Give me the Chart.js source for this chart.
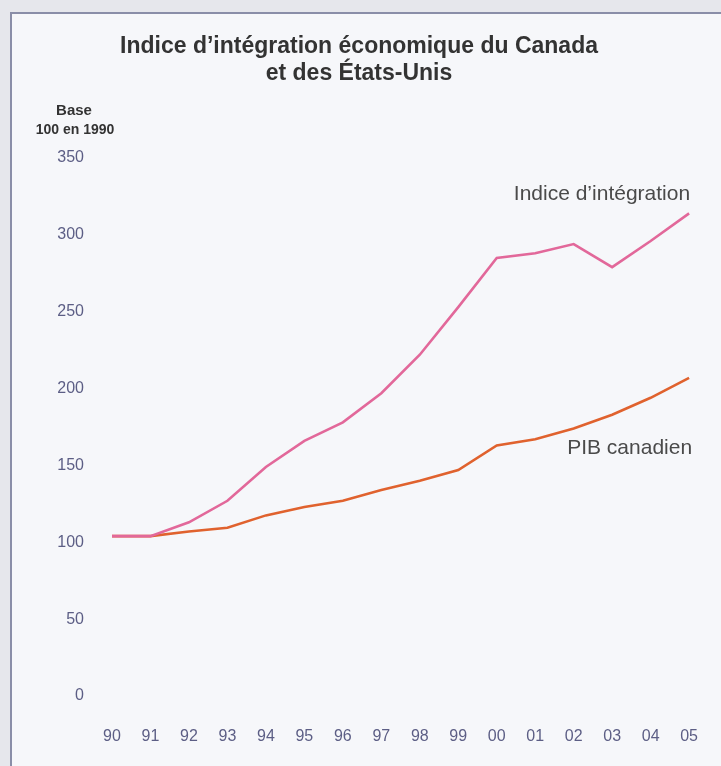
<!DOCTYPE html>
<html lang="fr">
<head>
<meta charset="utf-8">
<title>Indice d'intégration économique du Canada et des États-Unis</title>
<script src="https://cdn.jsdelivr.net/npm/chart.js@4.4.1/dist/chart.umd.min.js"></script>
<style>

    html,
    body {
        margin: 0;
        padding: 0;
        width: 721px;
        height: 766px;
        overflow: hidden;
        background: #e6e7ec;
    }

    #frame {
        position: absolute;
        left: 10px;
        top: 12px;
        width: 730px;
        height: 780px;
        border-left: 2px solid #8a8ea8;
        border-top: 2px solid #8a8ea8;
        background: #f6f7fa;
    }

    #chartBox {
        position: absolute;
        left: 0;
        top: 0;
        width: 721px;
        height: 766px;
    }

</style>
</head>
<body>

<div id="frame"></div>

<div id="chartBox">
    <canvas id="integrationChart" width="721" height="766"></canvas>
</div>

<script>

/*
============================================================
Data
============================================================
*/

const years = [
    "90", "91", "92", "93", "94", "95", "96", "97",
    "98", "99", "00", "01", "02", "03", "04", "05"
];

const integrationIndex = [
    104, 104, 113, 127, 149, 166, 178, 197,
    222, 253, 285, 288, 294, 279, 296, 314
];

const canadianGdp = [
    104, 104, 107, 109.5, 117.5, 123, 127, 134,
    140, 147, 163, 167, 174, 183, 194, 207
];

const yTicks = [0, 50, 100, 150, 200, 250, 300, 350];

const titleLines = [
    "Indice d\u2019intégration économique du Canada",
    "et des États-Unis"
];

const unitLines = ["Base", "100 en 1990"];

const seriesNames = ["Indice d\u2019intégration", "PIB canadien"];

/*
============================================================
Text Plugin
============================================================
*/

const textPlugin = {

    id: "textPlugin",

    afterDraw(chart) {

        const ctx = chart.ctx;

        const x = chart.scales.x;

        const y = chart.scales.y;

        ctx.save();

        // title
        ctx.fillStyle = "#333333";
        ctx.font = "bold 23px 'Liberation Sans', Arial, sans-serif";
        ctx.textAlign = "center";
        ctx.textBaseline = "middle";
        ctx.fillText(titleLines[0], 359, 47);
        ctx.fillText(titleLines[1], 359, 74);

        // unit
        ctx.font = "bold 15px 'Liberation Sans', Arial, sans-serif";
        ctx.fillText(unitLines[0], 74, 111);
        ctx.font = "bold 14px 'Liberation Sans', Arial, sans-serif";
        ctx.fillText(unitLines[1], 75, 130);

        // series labels, anchored on the last point
        const last = years.length - 1;

        const xEnd = x.getPixelForValue(last);

        ctx.fillStyle = "#4a4a4a";
        ctx.font = "21px 'Liberation Sans', Arial, sans-serif";
        ctx.textAlign = "right";

        ctx.fillText(
            seriesNames[0],
            xEnd + 1,
            y.getPixelForValue(integrationIndex[last]) - 19
        );

        ctx.fillText(
            seriesNames[1],
            xEnd + 3,
            y.getPixelForValue(canadianGdp[last]) + 70
        );

        ctx.restore();

    }

};

/*
============================================================
Chart
============================================================
*/

const tickColor = "#5c5e85";

const tickFont = {
    family: "'Liberation Sans', Arial, sans-serif",
    size: 16
};

new Chart(

    document.getElementById("integrationChart"),

    {

        type: "line",

        data: {

            labels: years,

            datasets: [

                {
                    label: seriesNames[0],
                    data: integrationIndex,
                    borderColor: "#e2689a",
                    borderWidth: 2.6,
                    pointRadius: 0,
                    tension: 0
                },

                {
                    label: seriesNames[1],
                    data: canadianGdp,
                    borderColor: "#e0622e",
                    borderWidth: 2.6,
                    pointRadius: 0,
                    tension: 0
                }

            ]

        },

        options: {

            responsive: false,

            animation: false,

            layout: {
                padding: { top: 158, right: 30, bottom: 0, left: 0 }
            },

            plugins: {
                legend: { display: false },
                title: { display: false },
                tooltip: { enabled: false }
            },

            scales: {

                x: {
                    offset: false,
                    grid: { display: false },
                    border: { display: false },
                    ticks: {
                        color: tickColor,
                        font: tickFont,
                        padding: 23,
                        maxRotation: 0,
                        autoSkip: false
                    },
                    afterFit(axis) {
                        axis.height = 70;
                    }
                },

                y: {
                    min: 0,
                    max: 350,
                    grid: { display: false },
                    border: { display: false },
                    afterBuildTicks(axis) {
                        axis.ticks = yTicks.map(v => ({ value: v }));
                    },
                    ticks: {
                        color: tickColor,
                        font: tickFont,
                        padding: 20
                    },
                    afterFit(axis) {
                        axis.width = 112;
                    }
                }

            }

        },

        plugins: [textPlugin]

    }

);

</script>

</body>
</html>
